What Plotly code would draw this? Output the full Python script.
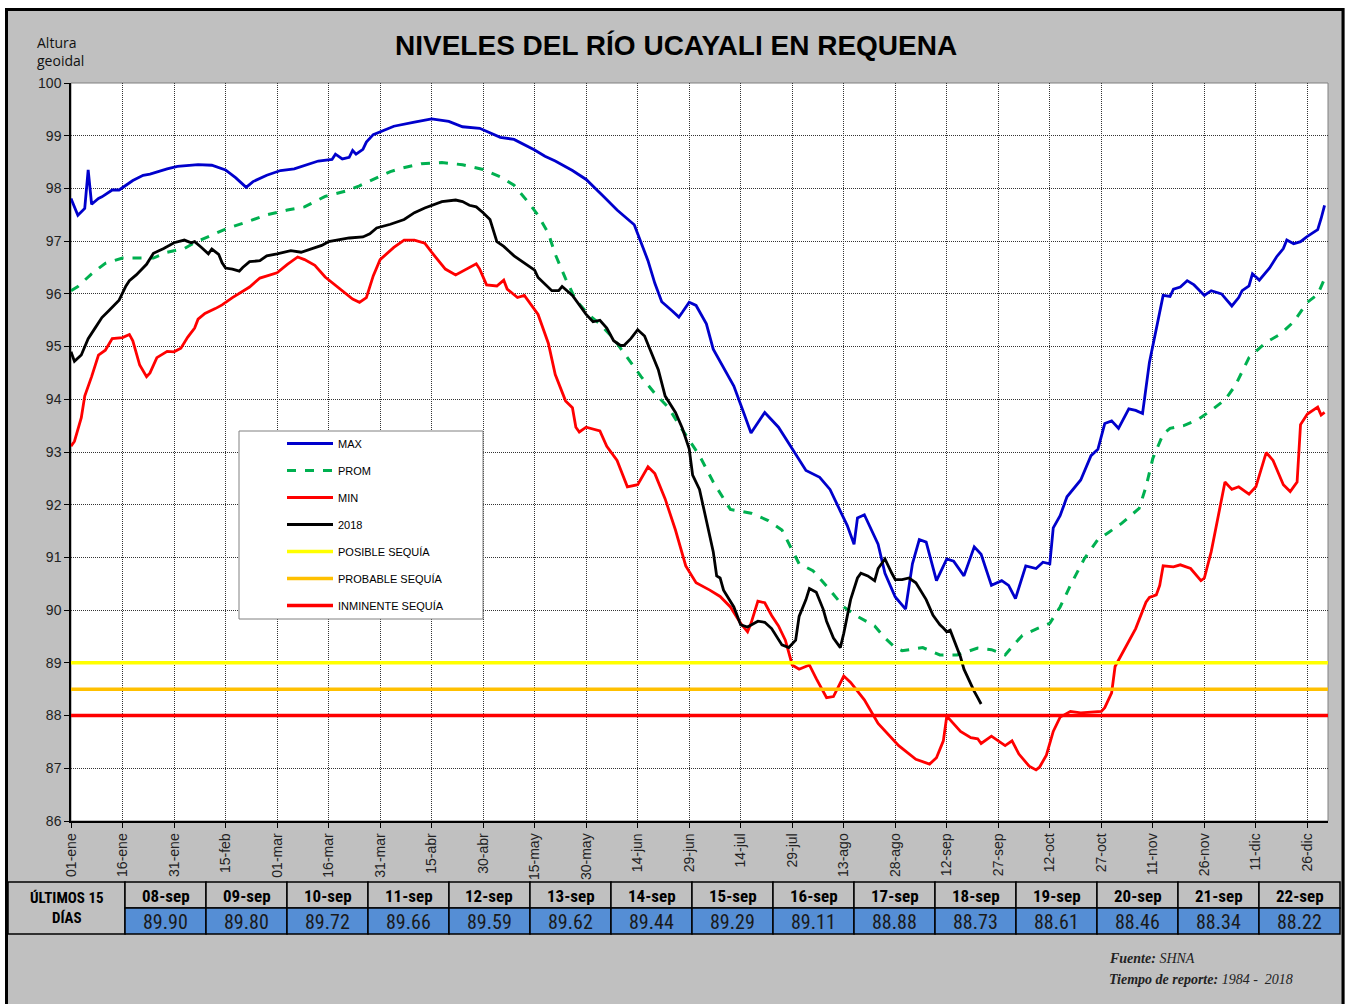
import plotly.graph_objects as go

# ---------------- DATA ----------------
tick_dias = [0, 15, 30, 45, 60, 75, 90, 105, 120, 135, 150, 165, 180, 195, 210, 225,
             240, 255, 270, 285, 300, 315, 330, 345, 360]
tick_labels = ["01-ene", "16-ene", "31-ene", "15-feb", "01-mar", "16-mar", "31-mar", "15-abr",
               "30-abr", "15-may", "30-may", "14-jun", "29-jun", "14-jul", "29-jul", "13-ago",
               "28-ago", "12-sep", "27-sep", "12-oct", "27-oct", "11-nov", "26-nov", "11-dic", "26-dic"]

dia_max = [0, 2, 4, 5, 6, 8, 9, 12, 14, 18, 21, 23, 28, 31, 37, 41, 45, 48, 51, 53, 57, 61, 65, 69,
           72, 76, 77, 79, 81, 82, 83, 85, 86, 88, 91, 94, 100, 105, 110, 114, 119, 125, 129, 135,
           138, 141, 146, 150, 155, 159, 164, 166, 168, 170, 172, 175, 177, 178, 180, 182, 185, 187,
           193, 196, 198, 202, 206, 210, 214, 218, 221, 224, 226, 228, 229, 231, 235, 237, 240, 243,
           245, 247, 249, 252, 255, 257, 260, 263, 265, 268, 271, 273, 275, 278, 281, 283, 285, 286,
           288, 290, 294, 297, 299, 301, 303, 305, 308, 310, 312, 314, 316, 317, 318, 320, 321, 323,
           325, 327, 330, 332, 335, 338, 340, 341, 343, 344, 346, 349, 351, 353, 354, 356, 358, 360,
           363, 364, 365]
nivel_max = [97.81, 97.49, 97.62, 98.35, 97.70, 97.81, 97.84, 97.97, 97.97, 98.15, 98.25, 98.27,
             98.37, 98.42, 98.45, 98.44, 98.35, 98.20, 98.02, 98.13, 98.25, 98.34, 98.37, 98.45,
             98.52, 98.55, 98.65, 98.56, 98.59, 98.72, 98.65, 98.74, 98.88, 99.02, 99.10, 99.18,
             99.26, 99.32, 99.27, 99.17, 99.14, 98.97, 98.93, 98.73, 98.61, 98.52, 98.34, 98.17,
             97.85, 97.59, 97.31, 96.97, 96.63, 96.20, 95.85, 95.68, 95.56, 95.65, 95.84, 95.78,
             95.43, 94.95, 94.25, 93.72, 93.36, 93.75, 93.47, 93.06, 92.65, 92.52, 92.29, 91.88,
             91.61, 91.25, 91.75, 91.81, 91.25, 90.70, 90.25, 90.02, 90.88, 91.34, 91.29, 90.56,
             90.97, 90.93, 90.65, 91.20, 91.06, 90.47, 90.56, 90.47, 90.22, 90.84, 90.79, 90.91,
             90.88, 91.56, 91.79, 92.15, 92.47, 92.93, 93.05, 93.54, 93.59, 93.45, 93.82, 93.79,
             93.73, 94.70, 95.34, 95.61, 95.97, 95.95, 96.09, 96.13, 96.25, 96.17, 95.97, 96.06,
             96.00, 95.77, 95.93, 96.06, 96.15, 96.38, 96.26, 96.49, 96.70, 96.86, 97.02, 96.95,
             96.99, 97.09, 97.22, 97.43, 97.68]

dia_prom = [0, 2, 6, 10, 15, 20, 24, 28, 33, 36, 41, 45, 51, 57, 63, 68, 74, 80, 84, 89, 93, 96,
            102, 108, 114, 120, 125, 129, 133, 136, 139, 141, 144, 147, 151, 154, 158, 162, 166,
            170, 174, 177, 181, 183, 187, 190, 192, 198, 203, 207, 210, 212, 216, 221, 225, 229,
            234, 237, 240, 242, 248, 253, 258, 264, 268, 272, 275, 277, 281, 285, 288, 291, 295,
            299, 302, 306, 311, 313, 315, 318, 320, 324, 328, 332, 336, 339, 343, 348, 352, 356,
            360, 363, 365]
nivel_prom = [96.06, 96.14, 96.38, 96.58, 96.68, 96.68, 96.68, 96.79, 96.86, 96.97, 97.11, 97.23,
              97.36, 97.50, 97.59, 97.65, 97.85, 97.95, 98.05, 98.20, 98.32, 98.38, 98.47, 98.49,
              98.45, 98.36, 98.22, 98.06, 97.75, 97.49, 97.15, 96.75, 96.29, 95.88, 95.59, 95.43,
              95.15, 94.79, 94.43, 94.11, 93.84, 93.52, 93.11, 92.93, 92.43, 92.11, 91.91, 91.84,
              91.70, 91.52, 91.15, 90.88, 90.75, 90.38, 90.06, 89.88, 89.70, 89.47, 89.29, 89.23,
              89.29, 89.15, 89.15, 89.28, 89.25, 89.15, 89.38, 89.52, 89.64, 89.75, 90.06, 90.47,
              90.97, 91.34, 91.47, 91.65, 91.93, 92.34, 92.88, 93.34, 93.45, 93.50, 93.61, 93.79,
              93.99, 94.26, 94.79, 95.08, 95.23, 95.47, 95.84, 95.99, 96.29]

dia_min = [0, 1, 3, 4, 6, 8, 10, 12, 15, 17, 18, 20, 22, 23, 25, 28, 30, 32, 34, 36, 37, 39, 42,
           44, 47, 52, 55, 60, 63, 66, 68, 71, 74, 78, 82, 84, 86, 88, 90, 94, 97, 100, 103, 105,
           107, 109, 112, 115, 118, 119, 121, 124, 126, 127, 130, 132, 136, 139, 141, 144, 146, 147,
           148, 150, 154, 156, 159, 162, 165, 168, 170, 173, 176, 179, 182, 186, 189, 192, 195, 197,
           198, 200, 202, 204, 206, 208, 210, 212, 215, 217, 220, 222, 225, 227, 231, 235, 241, 246,
           250, 252, 254, 255, 257, 259, 262, 264, 265, 268, 272, 274, 276, 279, 281, 282, 284, 286,
           288, 291, 294, 297, 300, 301, 303, 304, 307, 310, 313, 314, 316, 317, 318, 321, 323, 326,
           329, 330, 332, 334, 336, 338, 340, 343, 345, 348, 350, 353, 355, 357, 358, 360, 363, 364,
           365]
nivel_min = [93.11, 93.20, 93.65, 94.06, 94.43, 94.84, 94.93, 95.15, 95.17, 95.23, 95.11, 94.65,
             94.43, 94.50, 94.79, 94.91, 94.90, 94.97, 95.18, 95.35, 95.52, 95.63, 95.72, 95.79,
             95.93, 96.13, 96.30, 96.40, 96.56, 96.70, 96.65, 96.54, 96.32, 96.11, 95.90, 95.84,
             95.93, 96.34, 96.65, 96.88, 97.02, 97.02, 96.96, 96.79, 96.63, 96.47, 96.36, 96.47,
             96.57, 96.47, 96.17, 96.15, 96.26, 96.09, 95.93, 95.97, 95.61, 95.06, 94.47, 93.97,
             93.84, 93.47, 93.38, 93.47, 93.40, 93.11, 92.84, 92.34, 92.38, 92.72, 92.59, 92.11,
             91.52, 90.84, 90.52, 90.38, 90.26, 90.06, 89.75, 89.59, 89.75, 90.17, 90.14, 89.90,
             89.70, 89.43, 88.96, 88.88, 88.96, 88.70, 88.34, 88.36, 88.75, 88.63, 88.30, 87.85,
             87.43, 87.17, 87.08, 87.20, 87.52, 87.99, 87.84, 87.70, 87.58, 87.56, 87.47, 87.61,
             87.43, 87.52, 87.27, 87.04, 86.97, 87.02, 87.25, 87.70, 87.97, 88.08, 88.05, 88.06,
             88.08, 88.15, 88.43, 88.93, 89.29, 89.65, 90.15, 90.24, 90.29, 90.47, 90.84, 90.82,
             90.86, 90.79, 90.56, 90.61, 91.11, 91.79, 92.43, 92.29, 92.34, 92.20, 92.34, 92.99,
             92.84, 92.38, 92.25, 92.43, 93.52, 93.72, 93.85, 93.70, 93.75]

dia_2018 = [0, 1, 3, 5, 7, 9, 11, 14, 16, 17, 19, 22, 24, 27, 30, 33, 35, 36, 38, 40, 41, 43, 44,
            45, 47, 49, 50, 52, 55, 57, 60, 64, 67, 70, 73, 75, 78, 81, 85, 87, 89, 93, 97, 100,
            103, 106, 108, 112, 114, 116, 118, 120, 122, 124, 126, 129, 132, 135, 136, 138, 140,
            142, 143, 146, 148, 150, 152, 154, 156, 158, 160, 161, 163, 165, 167, 169, 171, 173,
            176, 178, 180, 181, 183, 185, 187, 188, 189, 190, 193, 195, 197, 200, 202, 204, 206,
            207, 209, 211, 212, 214, 215, 217, 219, 220, 222, 224, 225, 227, 229, 230, 232, 234,
            235, 237, 239, 240, 242, 244, 246, 249]
nivel_2018 = [94.90, 94.72, 94.84, 95.15, 95.35, 95.55, 95.68, 95.88, 96.15, 96.25, 96.36, 96.56,
              96.77, 96.86, 96.97, 97.02, 96.97, 96.99, 96.88, 96.76, 96.85, 96.75, 96.59, 96.49,
              96.47, 96.43, 96.50, 96.61, 96.63, 96.72, 96.76, 96.82, 96.79, 96.85, 96.92, 96.99,
              97.02, 97.06, 97.08, 97.14, 97.25, 97.32, 97.41, 97.54, 97.63, 97.70, 97.75, 97.78,
              97.75, 97.68, 97.65, 97.54, 97.41, 96.99, 96.90, 96.72, 96.59, 96.45, 96.31, 96.18,
              96.06, 96.06, 96.14, 95.97, 95.79, 95.61, 95.47, 95.50, 95.35, 95.11, 95.02, 95.02,
              95.15, 95.32, 95.20, 94.88, 94.56, 94.06, 93.75, 93.45, 93.06, 92.56, 92.29, 91.70,
              91.11, 90.65, 90.61, 90.38, 90.06, 89.72, 89.68, 89.79, 89.77, 89.65, 89.44, 89.34,
              89.29, 89.43, 89.88, 90.20, 90.41, 90.34, 90.02, 89.79, 89.47, 89.29, 89.56, 90.20,
              90.61, 90.70, 90.65, 90.56, 90.79, 90.97, 90.70, 90.58, 90.58, 90.61, 90.52, 90.20]

# last 15 days (table)
ultimos_fechas = ["08-sep", "09-sep", "10-sep", "11-sep", "12-sep", "13-sep", "14-sep", "15-sep",
                  "16-sep", "17-sep", "18-sep", "19-sep", "20-sep", "21-sep", "22-sep"]
ultimos_valores = [89.90, 89.80, 89.72, 89.66, 89.59, 89.62, 89.44, 89.29, 89.11, 88.88, 88.73,
                   88.61, 88.46, 88.34, 88.22]
ultimos_dias = list(range(251, 266))  # 08-sep .. 22-sep (day of year)

umbral_nombres = ["POSIBLE SEQUÍA", "PROBABLE SEQUÍA", "INMINENTE SEQUÍA"]
umbral_valores = [89.0, 88.5, 88.0]

# ---------------- FIGURE ----------------
W, H = 1351, 1004
L, R, T, B = 71, 1328, 83, 821


def px(x):
    return (x - L) / (R - L)


def py(y):
    return (B - y) / (B - T)


fig = go.Figure()

fig.add_trace(go.Scatter(x=dia_max, y=nivel_max, mode="lines", name="MAX", legendgroup="a",
                         line=dict(color="#0000CC", width=2.8)))
fig.add_trace(go.Scatter(x=dia_prom, y=nivel_prom, mode="lines", name="PROM", legendgroup="b",
                         line=dict(color="#00B050", width=3, dash="dash")))
fig.add_trace(go.Scatter(x=dia_min, y=nivel_min, mode="lines", name="MIN", legendgroup="c",
                         line=dict(color="#FF0000", width=2.8)))
fig.add_trace(go.Scatter(x=dia_2018 + ultimos_dias, y=nivel_2018 + ultimos_valores, mode="lines",
                         name="2018", legendgroup="d", line=dict(color="#000000", width=2.8)))
umbral_colores = ["#FFFF00", "#FFC000", "#FF0000"]
for i, (nm, v) in enumerate(zip(umbral_nombres, umbral_valores)):
    fig.add_trace(go.Scatter(x=[0, 366], y=[v, v], mode="lines", name=nm, legendgroup="u%d" % i,
                             line=dict(color=umbral_colores[i], width=3.5)))

shapes = []
# white page strips outside the frame
shapes.append(dict(type="rect", xref="paper", yref="paper", x0=px(0), x1=px(5),
                   y0=py(H), y1=py(0), fillcolor="white", line=dict(width=0)))
shapes.append(dict(type="rect", xref="paper", yref="paper", x0=px(0), x1=px(W),
                   y0=py(8), y1=py(0), fillcolor="white", line=dict(width=0)))
shapes.append(dict(type="rect", xref="paper", yref="paper", x0=px(1345), x1=px(W),
                   y0=py(H), y1=py(0), fillcolor="white", line=dict(width=0)))
# plot area border (grey)
shapes.append(dict(type="rect", xref="paper", yref="paper", x0=0, x1=1, y0=0, y1=1,
                   line=dict(color="#808080", width=1), layer="below"))
# legend box
shapes.append(dict(type="rect", xref="paper", yref="paper", x0=px(239), x1=px(483),
                   y0=py(619), y1=py(431), fillcolor="white",
                   line=dict(color="#808080", width=1), layer="above"))
# outer frame
shapes.append(dict(type="rect", xref="paper", yref="paper", x0=px(6.5), x1=px(1343),
                   y0=py(1012), y1=py(9.5), line=dict(color="black", width=3)))

annotations = []
annotations.append(dict(text="<b>NIVELES DEL RÍO UCAYALI EN REQUENA</b>", xref="paper", yref="paper",
                        x=px(676), y=py(45), xanchor="center", yanchor="middle", showarrow=False,
                        font=dict(family="Liberation Sans, Arial", size=28, color="black")))
annotations.append(dict(text="Altura<br>geoidal", xref="paper", yref="paper", x=px(35), y=py(52),
                        xanchor="left", yanchor="middle", align="left", showarrow=False,
                        font=dict(family="Open Sans, Liberation Sans", size=14, color="#111111")))

# table
tab_top, tab_mid, tab_bot = 882, 908, 934
col0_l, col0_r, col_w = 8, 125, 81
narrow = "Liberation Sans Narrow, Arial Narrow, Roboto Condensed, Liberation Sans"
shapes.append(dict(type="rect", xref="paper", yref="paper", x0=px(col0_l), x1=px(col0_r),
                   y0=py(tab_bot), y1=py(tab_top), fillcolor="#C0C0C0",
                   line=dict(color="black", width=1.5)))
annotations.append(dict(text="<b>ÚLTIMOS 15<br>DÍAS</b>", xref="paper", yref="paper",
                        x=px((col0_l + col0_r) / 2), y=py((tab_top + tab_bot) / 2),
                        xanchor="center", yanchor="middle", showarrow=False, align="center",
                        font=dict(family=narrow, size=15, color="black")))
for i, (f, v) in enumerate(zip(ultimos_fechas, ultimos_valores)):
    x0 = col0_r + i * col_w
    x1 = x0 + col_w
    shapes.append(dict(type="rect", xref="paper", yref="paper", x0=px(x0), x1=px(x1),
                       y0=py(tab_mid), y1=py(tab_top), fillcolor="#C0C0C0",
                       line=dict(color="black", width=1.5)))
    shapes.append(dict(type="rect", xref="paper", yref="paper", x0=px(x0), x1=px(x1),
                       y0=py(tab_bot), y1=py(tab_mid), fillcolor="#558ED5",
                       line=dict(color="black", width=1.5)))
    annotations.append(dict(text="<b>%s</b>" % f, xref="paper", yref="paper",
                            x=px((x0 + x1) / 2), y=py((tab_top + tab_mid) / 2 + 1),
                            xanchor="center", yanchor="middle", showarrow=False,
                            font=dict(family=narrow, size=17, color="black")))
    annotations.append(dict(text="%.2f" % v, xref="paper", yref="paper",
                            x=px((x0 + x1) / 2), y=py((tab_mid + tab_bot) / 2 + 1),
                            xanchor="center", yanchor="middle", showarrow=False,
                            font=dict(family=narrow, size=20, color="#1a1a1a")))

# footer
serif = "Liberation Serif, Times New Roman"
annotations.append(dict(text="<b><i>Fuente:</i></b> <i>SHNA</i>", xref="paper", yref="paper",
                        x=px(1107), y=py(958), xanchor="left", yanchor="middle", showarrow=False,
                        font=dict(family=serif, size=14, color="#222222")))
annotations.append(dict(text="<b><i>Tiempo de reporte:</i></b> <i>1984 -  2018</i>", xref="paper",
                        yref="paper", x=px(1107), y=py(980), xanchor="left", yanchor="middle",
                        showarrow=False, font=dict(family=serif, size=14, color="#222222")))

fig.update_layout(
    width=W, height=H,
    margin=dict(l=L, r=W - R, t=T, b=H - B, pad=0),
    paper_bgcolor="#C0C0C0",
    plot_bgcolor="white",
    showlegend=True,
    legend=dict(x=px(282), y=py(429), xanchor="left", yanchor="top",
                bgcolor="rgba(0,0,0,0)", borderwidth=0, tracegroupgap=8,
                font=dict(family="Liberation Sans, Arial", size=11, color="black"),
                itemwidth=46),
    shapes=shapes,
    annotations=annotations,
    font=dict(family="Liberation Sans, Arial", color="black"),
)
fig.update_xaxes(range=[0, 366], tickmode="array", tickvals=tick_dias, ticktext=tick_labels,
                 tickangle=-90, ticks="outside", ticklen=5, tickcolor="black",
                 showgrid=True, gridcolor="#333333", griddash="1px,1px", gridwidth=1,
                 showline=True, linecolor="black", linewidth=1.5, zeroline=False,
                 tickfont=dict(family="Liberation Sans, Arial", size=14, color="#222222"))
fig.update_yaxes(range=[86, 100], dtick=1, ticks="outside", ticklen=5, tickcolor="black",
                 showgrid=True, gridcolor="#333333", griddash="1px,1px", gridwidth=1,
                 showline=True, linecolor="black", linewidth=1.5, zeroline=False,
                 tickfont=dict(family="Liberation Sans, Arial", size=14, color="#222222"))

fig.write_html("out.html", config={"displayModeBar": False},
               post_script="document.body.style.margin='0px';")
